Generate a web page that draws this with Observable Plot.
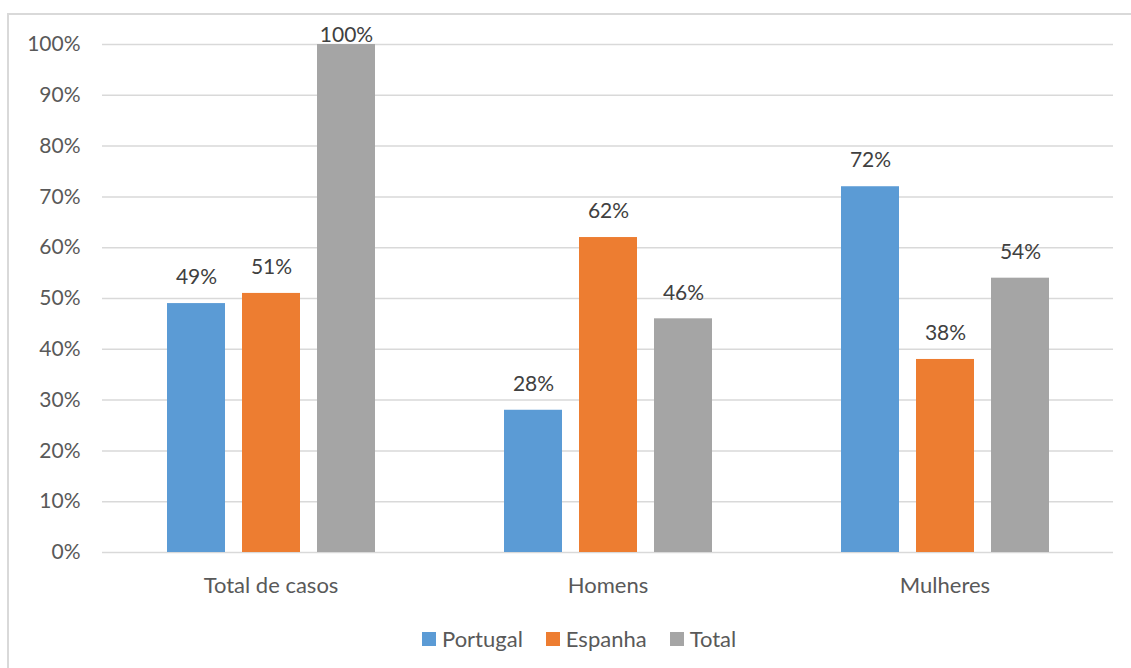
<!DOCTYPE html>
<html>
<head>
<meta charset="utf-8">
<script src="https://cdn.jsdelivr.net/npm/d3@7"></script>
<script src="https://cdn.jsdelivr.net/npm/@observablehq/plot@0.6"></script>
<style>
  html, body { margin: 0; padding: 0; background: #fff; overflow: hidden; width: 1131px; height: 668px; }
  #frame { position: absolute; left: 7px; top: 13px; width: 1200px; height: 720px; border: 2px solid #d9d9d9; box-sizing: border-box; }
  #chart { position: absolute; left: 0; top: 0; }
  #legend { position: absolute; left: 422px; top: 625px; display: flex; align-items: center; font-family: Lato, sans-serif; font-size: 22px; color: #595959; }
  .item { display: flex; align-items: center; margin-right: 23px; }
  .sw { width: 14px; height: 14px; margin-right: 6px; }
</style>
</head>
<body>
<div id="frame"></div>
<div id="chart"></div>
<div id="legend"></div>
<script>
const groups = ["Total de casos", "Homens", "Mulheres"];
const series = ["Portugal", "Espanha", "Total"];
const colors = ["#5B9BD5", "#ED7D31", "#A5A5A5"];
const portugal = [49, 28, 72];
const espanha = [51, 62, 38];
const total = [100, 46, 54];
const yTicks = [0, 10, 20, 30, 40, 50, 60, 70, 80, 90, 100];

const values = [portugal, espanha, total];
const data = [];
groups.forEach((g, gi) => series.forEach((s, si) => data.push({group: g, series: s, value: values[si][gi]})));

const chart = Plot.plot({
  width: 1131,
  height: 610,
  marginLeft: 101,
  marginRight: 18,
  marginTop: 44,
  marginBottom: 58,
  style: {fontFamily: "Lato, sans-serif", fontSize: "21px", color: "#595959", background: "transparent", overflow: "visible"},
  fx: {domain: groups, padding: 0, label: null},
  x: {domain: series, paddingInner: 0.227, paddingOuter: 0.86, axis: null},
  y: {domain: [0, 100], axis: null},
  color: {domain: series, range: colors},
  marks: [
    Plot.ruleY(yTicks, {stroke: "#d9d9d9", strokeWidth: 1.5}),
    Plot.axisY({ticks: yTicks, tickSize: 0, tickPadding: 22, tickFormat: d => d + "%", label: null, fontSize: 21, facetAnchor: "left"}),
    Plot.axisFx({anchor: "bottom", tickSize: 0, tickPadding: 25, label: null, fontSize: 22}),
    Plot.barY(data, {fx: "group", x: "series", y: "value", fill: "series"}),
    Plot.text(data, {fx: "group", x: "series", y: d => Math.min(d.value, 96.7), text: d => d.value + "%", dy: -26, fill: "#404040", fontSize: 21})
  ]
});
document.getElementById("chart").appendChild(chart);

const legend = document.getElementById("legend");
series.forEach((s, i) => {
  const it = document.createElement("div");
  it.className = "item";
  it.innerHTML = `<span class="sw" style="background:${colors[i]}"></span><span>${s}</span>`;
  legend.appendChild(it);
});
</script>
</body>
</html>
